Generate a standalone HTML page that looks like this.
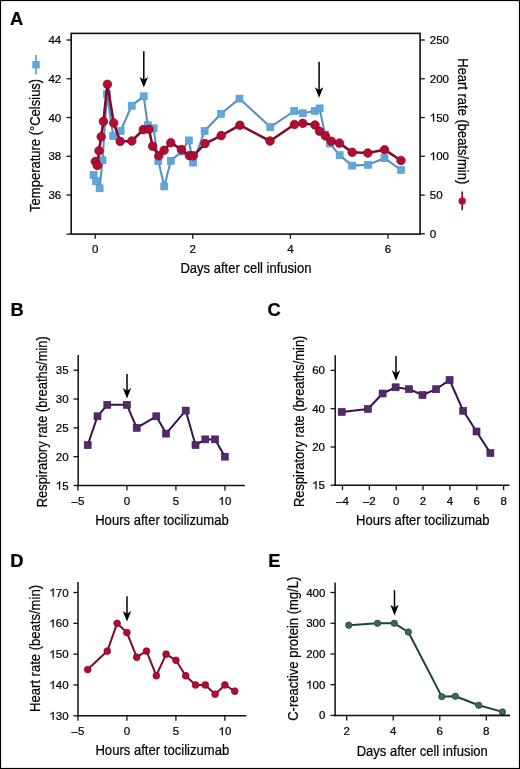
<!DOCTYPE html>
<html><head><meta charset="utf-8"><title>Figure</title>
<style>
html,body{margin:0;padding:0;background:#fff;}
body{width:520px;height:769px;overflow:hidden;}
svg{display:block;}
text{font-family:"Liberation Sans",sans-serif;fill:#000;stroke:#000;stroke-width:0.22px;}
svg{will-change:transform;}
</style></head>
<body>
<svg width="520" height="769" viewBox="0 0 520 769">
<rect x="0" y="0" width="520" height="769" fill="#fff"/>
<text x="10.0" y="24.6" font-size="18.3" text-anchor="start" font-weight="bold" stroke-width="0">A</text>
<rect x="71.2" y="33.4" width="348.9" height="200.7" fill="none" stroke="#111" stroke-width="1.6"/>
<line x1="66.5" y1="234.1" x2="71.2" y2="234.1" stroke="#111" stroke-width="1.3"/>
<line x1="66.5" y1="40.0" x2="71.2" y2="40.0" stroke="#111" stroke-width="1.3"/>
<text x="61.2" y="44.0" font-size="11.5" text-anchor="end" >44</text>
<line x1="66.5" y1="78.76" x2="71.2" y2="78.76" stroke="#111" stroke-width="1.3"/>
<text x="61.2" y="82.76" font-size="11.5" text-anchor="end" >42</text>
<line x1="66.5" y1="117.52" x2="71.2" y2="117.52" stroke="#111" stroke-width="1.3"/>
<text x="61.2" y="121.52" font-size="11.5" text-anchor="end" >40</text>
<line x1="66.5" y1="156.28" x2="71.2" y2="156.28" stroke="#111" stroke-width="1.3"/>
<text x="61.2" y="160.28" font-size="11.5" text-anchor="end" >38</text>
<line x1="66.5" y1="195.04" x2="71.2" y2="195.04" stroke="#111" stroke-width="1.3"/>
<text x="61.2" y="199.04" font-size="11.5" text-anchor="end" >36</text>
<line x1="420.1" y1="40.0" x2="424.8" y2="40.0" stroke="#111" stroke-width="1.3"/>
<text x="429.8" y="44.0" font-size="11.5" text-anchor="start" >250</text>
<line x1="420.1" y1="78.76" x2="424.8" y2="78.76" stroke="#111" stroke-width="1.3"/>
<text x="429.8" y="82.76" font-size="11.5" text-anchor="start" >200</text>
<line x1="420.1" y1="117.52" x2="424.8" y2="117.52" stroke="#111" stroke-width="1.3"/>
<path d="M434.08,121.52 L433.07,121.52 L433.07,115.08 Q432.71,115.43 432.11,115.78 Q431.52,116.12 430.83,116.43 L430.83,115.44 Q431.68,115.05 432.31,114.53 Q432.94,114.01 433.24,113.61 L434.08,113.61 Z" fill="#000" stroke="#000" stroke-width="0.22"/>
<text x="429.8" y="121.52" font-size="11.5" text-anchor="start" > 50</text>
<line x1="420.1" y1="156.28" x2="424.8" y2="156.28" stroke="#111" stroke-width="1.3"/>
<path d="M434.08,160.28 L433.07,160.28 L433.07,153.84 Q432.71,154.19 432.11,154.54 Q431.52,154.88 430.83,155.19 L430.83,154.20 Q431.68,153.81 432.31,153.29 Q432.94,152.77 433.24,152.37 L434.08,152.37 Z" fill="#000" stroke="#000" stroke-width="0.22"/>
<text x="429.8" y="160.28" font-size="11.5" text-anchor="start" > 00</text>
<line x1="420.1" y1="195.04" x2="424.8" y2="195.04" stroke="#111" stroke-width="1.3"/>
<text x="429.8" y="199.04" font-size="11.5" text-anchor="start" >50</text>
<line x1="420.1" y1="233.8" x2="424.8" y2="233.8" stroke="#111" stroke-width="1.3"/>
<text x="429.8" y="237.8" font-size="11.5" text-anchor="start" >0</text>
<line x1="95.2" y1="234.1" x2="95.2" y2="238.8" stroke="#111" stroke-width="1.3"/>
<text x="95.2" y="253.4" font-size="11.5" text-anchor="middle" >0</text>
<line x1="192.8" y1="234.1" x2="192.8" y2="238.8" stroke="#111" stroke-width="1.3"/>
<text x="192.8" y="253.4" font-size="11.5" text-anchor="middle" >2</text>
<line x1="290.4" y1="234.1" x2="290.4" y2="238.8" stroke="#111" stroke-width="1.3"/>
<text x="290.4" y="253.4" font-size="11.5" text-anchor="middle" >4</text>
<line x1="388.0" y1="234.1" x2="388.0" y2="238.8" stroke="#111" stroke-width="1.3"/>
<text x="388.0" y="253.4" font-size="11.5" text-anchor="middle" >6</text>
<text x="180.40" y="273.3" font-size="15.3" textLength="131.10" lengthAdjust="spacingAndGlyphs">Days after cell infusion</text>
<text transform="translate(40.3,211.90) rotate(-90)" x="0" y="0" font-size="15.4" textLength="133.10" lengthAdjust="spacingAndGlyphs">Temperature (°Celsius)</text>
<text transform="translate(457.5,58.30) rotate(90)" x="0" y="0" font-size="15.4" textLength="125.90" lengthAdjust="spacingAndGlyphs">Heart rate (beats/min)</text>
<line x1="36.05" y1="54.9" x2="36.05" y2="74.4" stroke="#5890c0" stroke-width="1.5"/>
<rect x="32.30" y="60.95" width="7.5" height="7.5" fill="#62a7dc"/>
<line x1="462.2" y1="191.4" x2="462.2" y2="210.2" stroke="#7e0b2d" stroke-width="1.6"/>
<circle cx="462.20" cy="201.10" r="3.7" fill="#b40a33"/>
<polyline points="93.6,175.0 96.2,181.3 99.6,188.3 102.5,160.3 107.0,94.2 113.2,136.0 120.6,131.0 131.7,105.7 143.7,96.3 147.8,125.3 153.6,128.3 158.3,160.8 164.3,186.4 170.8,160.8 181.5,151.5 188.8,140.4 193.1,162.6 204.6,131.0 221.1,113.8 239.5,98.6 270.3,127.1 294.3,111.0 302.7,113.3 314.8,111.0 319.6,108.4 325.0,134.5 329.8,143.5 339.6,155.1 352.2,165.6 368.0,164.8 384.5,158.2 401.0,170.0" fill="none" stroke="#5890c0" stroke-width="2.1" stroke-linejoin="round"/>
<rect x="90.10" y="171.50" width="7.0" height="7.0" fill="#62a7dc" stroke="#4f92c8" stroke-width="0.6"/>
<rect x="92.70" y="177.80" width="7.0" height="7.0" fill="#62a7dc" stroke="#4f92c8" stroke-width="0.6"/>
<rect x="96.10" y="184.80" width="7.0" height="7.0" fill="#62a7dc" stroke="#4f92c8" stroke-width="0.6"/>
<rect x="99.00" y="156.80" width="7.0" height="7.0" fill="#62a7dc" stroke="#4f92c8" stroke-width="0.6"/>
<rect x="103.50" y="90.70" width="7.0" height="7.0" fill="#62a7dc" stroke="#4f92c8" stroke-width="0.6"/>
<rect x="109.70" y="132.50" width="7.0" height="7.0" fill="#62a7dc" stroke="#4f92c8" stroke-width="0.6"/>
<rect x="117.10" y="127.50" width="7.0" height="7.0" fill="#62a7dc" stroke="#4f92c8" stroke-width="0.6"/>
<rect x="128.20" y="102.20" width="7.0" height="7.0" fill="#62a7dc" stroke="#4f92c8" stroke-width="0.6"/>
<rect x="140.20" y="92.80" width="7.0" height="7.0" fill="#62a7dc" stroke="#4f92c8" stroke-width="0.6"/>
<rect x="144.30" y="121.80" width="7.0" height="7.0" fill="#62a7dc" stroke="#4f92c8" stroke-width="0.6"/>
<rect x="150.10" y="124.80" width="7.0" height="7.0" fill="#62a7dc" stroke="#4f92c8" stroke-width="0.6"/>
<rect x="154.80" y="157.30" width="7.0" height="7.0" fill="#62a7dc" stroke="#4f92c8" stroke-width="0.6"/>
<rect x="160.80" y="182.90" width="7.0" height="7.0" fill="#62a7dc" stroke="#4f92c8" stroke-width="0.6"/>
<rect x="167.30" y="157.30" width="7.0" height="7.0" fill="#62a7dc" stroke="#4f92c8" stroke-width="0.6"/>
<rect x="178.00" y="148.00" width="7.0" height="7.0" fill="#62a7dc" stroke="#4f92c8" stroke-width="0.6"/>
<rect x="185.30" y="136.90" width="7.0" height="7.0" fill="#62a7dc" stroke="#4f92c8" stroke-width="0.6"/>
<rect x="189.60" y="159.10" width="7.0" height="7.0" fill="#62a7dc" stroke="#4f92c8" stroke-width="0.6"/>
<rect x="201.10" y="127.50" width="7.0" height="7.0" fill="#62a7dc" stroke="#4f92c8" stroke-width="0.6"/>
<rect x="217.60" y="110.30" width="7.0" height="7.0" fill="#62a7dc" stroke="#4f92c8" stroke-width="0.6"/>
<rect x="236.00" y="95.10" width="7.0" height="7.0" fill="#62a7dc" stroke="#4f92c8" stroke-width="0.6"/>
<rect x="266.80" y="123.60" width="7.0" height="7.0" fill="#62a7dc" stroke="#4f92c8" stroke-width="0.6"/>
<rect x="290.80" y="107.50" width="7.0" height="7.0" fill="#62a7dc" stroke="#4f92c8" stroke-width="0.6"/>
<rect x="299.20" y="109.80" width="7.0" height="7.0" fill="#62a7dc" stroke="#4f92c8" stroke-width="0.6"/>
<rect x="311.30" y="107.50" width="7.0" height="7.0" fill="#62a7dc" stroke="#4f92c8" stroke-width="0.6"/>
<rect x="316.10" y="104.90" width="7.0" height="7.0" fill="#62a7dc" stroke="#4f92c8" stroke-width="0.6"/>
<rect x="321.50" y="131.00" width="7.0" height="7.0" fill="#62a7dc" stroke="#4f92c8" stroke-width="0.6"/>
<rect x="326.30" y="140.00" width="7.0" height="7.0" fill="#62a7dc" stroke="#4f92c8" stroke-width="0.6"/>
<rect x="336.10" y="151.60" width="7.0" height="7.0" fill="#62a7dc" stroke="#4f92c8" stroke-width="0.6"/>
<rect x="348.70" y="162.10" width="7.0" height="7.0" fill="#62a7dc" stroke="#4f92c8" stroke-width="0.6"/>
<rect x="364.50" y="161.30" width="7.0" height="7.0" fill="#62a7dc" stroke="#4f92c8" stroke-width="0.6"/>
<rect x="381.00" y="154.70" width="7.0" height="7.0" fill="#62a7dc" stroke="#4f92c8" stroke-width="0.6"/>
<rect x="397.50" y="166.50" width="7.0" height="7.0" fill="#62a7dc" stroke="#4f92c8" stroke-width="0.6"/>
<polyline points="95.3,161.5 97.3,165.5 99.0,150.7 101.2,136.7 103.4,121.4 107.4,84.3 113.7,123.0 120.2,141.4 131.8,141.0 143.3,129.6 149.0,129.4 152.6,146.2 158.8,155.8 164.1,150.3 170.8,142.7 181.5,149.6 189.4,155.6 193.3,155.8 205.0,143.6 221.2,135.6 239.9,125.2 270.0,141.0 294.4,124.5 302.8,123.3 315.0,125.0 319.5,131.2 325.5,136.0 331.3,141.3 339.4,143.1 352.2,152.3 367.8,153.0 384.5,149.7 401.0,160.5" fill="none" stroke="#7e0b2d" stroke-width="2.6" stroke-linejoin="round"/>
<circle cx="95.30" cy="161.50" r="4.3" fill="#b40a33" stroke="#7d0a2a" stroke-width="0.7"/>
<circle cx="97.30" cy="165.50" r="4.3" fill="#b40a33" stroke="#7d0a2a" stroke-width="0.7"/>
<circle cx="99.00" cy="150.70" r="4.3" fill="#b40a33" stroke="#7d0a2a" stroke-width="0.7"/>
<circle cx="101.20" cy="136.70" r="4.3" fill="#b40a33" stroke="#7d0a2a" stroke-width="0.7"/>
<circle cx="103.40" cy="121.40" r="4.3" fill="#b40a33" stroke="#7d0a2a" stroke-width="0.7"/>
<circle cx="107.40" cy="84.30" r="4.3" fill="#b40a33" stroke="#7d0a2a" stroke-width="0.7"/>
<circle cx="113.70" cy="123.00" r="4.3" fill="#b40a33" stroke="#7d0a2a" stroke-width="0.7"/>
<circle cx="120.20" cy="141.40" r="4.3" fill="#b40a33" stroke="#7d0a2a" stroke-width="0.7"/>
<circle cx="131.80" cy="141.00" r="4.3" fill="#b40a33" stroke="#7d0a2a" stroke-width="0.7"/>
<circle cx="143.30" cy="129.60" r="4.3" fill="#b40a33" stroke="#7d0a2a" stroke-width="0.7"/>
<circle cx="149.00" cy="129.40" r="4.3" fill="#b40a33" stroke="#7d0a2a" stroke-width="0.7"/>
<circle cx="152.60" cy="146.20" r="4.3" fill="#b40a33" stroke="#7d0a2a" stroke-width="0.7"/>
<circle cx="158.80" cy="155.80" r="4.3" fill="#b40a33" stroke="#7d0a2a" stroke-width="0.7"/>
<circle cx="164.10" cy="150.30" r="4.3" fill="#b40a33" stroke="#7d0a2a" stroke-width="0.7"/>
<circle cx="170.80" cy="142.70" r="4.3" fill="#b40a33" stroke="#7d0a2a" stroke-width="0.7"/>
<circle cx="181.50" cy="149.60" r="4.3" fill="#b40a33" stroke="#7d0a2a" stroke-width="0.7"/>
<circle cx="189.40" cy="155.60" r="4.3" fill="#b40a33" stroke="#7d0a2a" stroke-width="0.7"/>
<circle cx="193.30" cy="155.80" r="4.3" fill="#b40a33" stroke="#7d0a2a" stroke-width="0.7"/>
<circle cx="205.00" cy="143.60" r="4.3" fill="#b40a33" stroke="#7d0a2a" stroke-width="0.7"/>
<circle cx="221.20" cy="135.60" r="4.3" fill="#b40a33" stroke="#7d0a2a" stroke-width="0.7"/>
<circle cx="239.90" cy="125.20" r="4.3" fill="#b40a33" stroke="#7d0a2a" stroke-width="0.7"/>
<circle cx="270.00" cy="141.00" r="4.3" fill="#b40a33" stroke="#7d0a2a" stroke-width="0.7"/>
<circle cx="294.40" cy="124.50" r="4.3" fill="#b40a33" stroke="#7d0a2a" stroke-width="0.7"/>
<circle cx="302.80" cy="123.30" r="4.3" fill="#b40a33" stroke="#7d0a2a" stroke-width="0.7"/>
<circle cx="315.00" cy="125.00" r="4.3" fill="#b40a33" stroke="#7d0a2a" stroke-width="0.7"/>
<circle cx="319.50" cy="131.20" r="4.3" fill="#b40a33" stroke="#7d0a2a" stroke-width="0.7"/>
<circle cx="325.50" cy="136.00" r="4.3" fill="#b40a33" stroke="#7d0a2a" stroke-width="0.7"/>
<circle cx="331.30" cy="141.30" r="4.3" fill="#b40a33" stroke="#7d0a2a" stroke-width="0.7"/>
<circle cx="339.40" cy="143.10" r="4.3" fill="#b40a33" stroke="#7d0a2a" stroke-width="0.7"/>
<circle cx="352.20" cy="152.30" r="4.3" fill="#b40a33" stroke="#7d0a2a" stroke-width="0.7"/>
<circle cx="367.80" cy="153.00" r="4.3" fill="#b40a33" stroke="#7d0a2a" stroke-width="0.7"/>
<circle cx="384.50" cy="149.70" r="4.3" fill="#b40a33" stroke="#7d0a2a" stroke-width="0.7"/>
<circle cx="401.00" cy="160.50" r="4.3" fill="#b40a33" stroke="#7d0a2a" stroke-width="0.7"/>
<line x1="143.8" y1="51.2" x2="143.8" y2="80.3" stroke="#000" stroke-width="1.5"/>
<path d="M143.8,87.6 L139.6,77.0 L143.8,79.8 L148.0,77.0 Z" fill="#000"/>
<line x1="319.1" y1="61.8" x2="319.1" y2="90.5" stroke="#000" stroke-width="1.5"/>
<path d="M319.1,97.8 L314.9,87.2 L319.1,90.0 L323.3,87.2 Z" fill="#000"/>
<text x="10.6" y="315.6" font-size="18.3" text-anchor="start" font-weight="bold" stroke-width="0">B</text>
<line x1="78.2" y1="355.0" x2="78.2" y2="486.25" stroke="#111" stroke-width="1.5"/>
<line x1="77.45" y1="485.5" x2="244.8" y2="485.5" stroke="#111" stroke-width="1.5"/>
<line x1="73.5" y1="370.2" x2="78.2" y2="370.2" stroke="#111" stroke-width="1.3"/>
<text x="68.6" y="374.2" font-size="11.5" text-anchor="end" >35</text>
<line x1="73.5" y1="399.02" x2="78.2" y2="399.02" stroke="#111" stroke-width="1.3"/>
<text x="68.6" y="403.02" font-size="11.5" text-anchor="end" >30</text>
<line x1="73.5" y1="427.85" x2="78.2" y2="427.85" stroke="#111" stroke-width="1.3"/>
<text x="68.6" y="431.85" font-size="11.5" text-anchor="end" >25</text>
<line x1="73.5" y1="456.68" x2="78.2" y2="456.68" stroke="#111" stroke-width="1.3"/>
<text x="68.6" y="460.68" font-size="11.5" text-anchor="end" >20</text>
<line x1="73.5" y1="485.5" x2="78.2" y2="485.5" stroke="#111" stroke-width="1.3"/>
<path d="M60.09,489.50 L59.08,489.50 L59.08,483.06 Q58.72,483.41 58.12,483.76 Q57.53,484.10 56.84,484.41 L56.84,483.42 Q57.69,483.03 58.32,482.51 Q58.95,481.99 59.25,481.59 L60.09,481.59 Z" fill="#000" stroke="#000" stroke-width="0.22"/>
<text x="68.6" y="489.5" font-size="11.5" text-anchor="end" > 5</text>
<line x1="77.9" y1="485.5" x2="77.9" y2="490.5" stroke="#111" stroke-width="1.3"/>
<text x="77.9" y="505.0" font-size="11.5" text-anchor="middle" >–5</text>
<line x1="126.9" y1="485.5" x2="126.9" y2="490.5" stroke="#111" stroke-width="1.3"/>
<text x="126.9" y="505.0" font-size="11.5" text-anchor="middle" >0</text>
<line x1="175.9" y1="485.5" x2="175.9" y2="490.5" stroke="#111" stroke-width="1.3"/>
<text x="175.9" y="505.0" font-size="11.5" text-anchor="middle" >5</text>
<line x1="224.9" y1="485.5" x2="224.9" y2="490.5" stroke="#111" stroke-width="1.3"/>
<path d="M222.79,505.00 L221.78,505.00 L221.78,498.56 Q221.41,498.91 220.82,499.26 Q220.22,499.60 219.54,499.91 L219.54,498.92 Q220.39,498.53 221.01,498.01 Q221.64,497.49 221.94,497.09 L222.79,497.09 Z" fill="#000" stroke="#000" stroke-width="0.22"/>
<text x="224.9" y="505.0" font-size="11.5" text-anchor="middle" > 0</text>
<text x="95.20" y="524.7" font-size="15.3" textLength="133.50" lengthAdjust="spacingAndGlyphs">Hours after tocilizumab</text>
<text transform="translate(46.9,507.20) rotate(-90)" x="0" y="0" font-size="15.4" textLength="170.90" lengthAdjust="spacingAndGlyphs">Respiratory rate (breaths/min)</text>
<polyline points="87.7,445.1 97.5,416.3 107.3,404.8 126.9,404.8 136.7,427.9 156.3,416.3 166.1,433.6 185.7,410.6 195.5,445.1 205.3,439.4 215.1,439.4 224.9,456.7" fill="none" stroke="#36134a" stroke-width="2.0" stroke-linejoin="round"/>
<rect x="84.20" y="441.64" width="7.0" height="7.0" fill="#56296d" stroke="#3e1a52" stroke-width="0.6"/>
<rect x="94.00" y="412.82" width="7.0" height="7.0" fill="#56296d" stroke="#3e1a52" stroke-width="0.6"/>
<rect x="103.80" y="401.29" width="7.0" height="7.0" fill="#56296d" stroke="#3e1a52" stroke-width="0.6"/>
<rect x="123.40" y="401.29" width="7.0" height="7.0" fill="#56296d" stroke="#3e1a52" stroke-width="0.6"/>
<rect x="133.20" y="424.35" width="7.0" height="7.0" fill="#56296d" stroke="#3e1a52" stroke-width="0.6"/>
<rect x="152.80" y="412.82" width="7.0" height="7.0" fill="#56296d" stroke="#3e1a52" stroke-width="0.6"/>
<rect x="162.60" y="430.12" width="7.0" height="7.0" fill="#56296d" stroke="#3e1a52" stroke-width="0.6"/>
<rect x="182.20" y="407.06" width="7.0" height="7.0" fill="#56296d" stroke="#3e1a52" stroke-width="0.6"/>
<rect x="192.00" y="441.64" width="7.0" height="7.0" fill="#56296d" stroke="#3e1a52" stroke-width="0.6"/>
<rect x="201.80" y="435.88" width="7.0" height="7.0" fill="#56296d" stroke="#3e1a52" stroke-width="0.6"/>
<rect x="211.60" y="435.88" width="7.0" height="7.0" fill="#56296d" stroke="#3e1a52" stroke-width="0.6"/>
<rect x="221.40" y="453.18" width="7.0" height="7.0" fill="#56296d" stroke="#3e1a52" stroke-width="0.6"/>
<line x1="127.0" y1="374.1" x2="127.0" y2="391.3" stroke="#000" stroke-width="1.5"/>
<path d="M127.0,398.6 L122.8,388.0 L127.0,390.8 L131.2,388.0 Z" fill="#000"/>
<text x="267.5" y="315.6" font-size="18.3" text-anchor="start" font-weight="bold" stroke-width="0">C</text>
<line x1="335.2" y1="355.2" x2="335.2" y2="485.95" stroke="#111" stroke-width="1.5"/>
<line x1="334.45" y1="485.2" x2="509.4" y2="485.2" stroke="#111" stroke-width="1.5"/>
<line x1="330.6" y1="370.4" x2="335.2" y2="370.4" stroke="#111" stroke-width="1.3"/>
<text x="325.0" y="374.4" font-size="11.5" text-anchor="end" >60</text>
<line x1="330.6" y1="408.7" x2="335.2" y2="408.7" stroke="#111" stroke-width="1.3"/>
<text x="325.0" y="412.7" font-size="11.5" text-anchor="end" >40</text>
<line x1="330.6" y1="447.0" x2="335.2" y2="447.0" stroke="#111" stroke-width="1.3"/>
<text x="325.0" y="451.0" font-size="11.5" text-anchor="end" >20</text>
<line x1="330.6" y1="485.2" x2="335.2" y2="485.2" stroke="#111" stroke-width="1.3"/>
<path d="M316.49,489.20 L315.48,489.20 L315.48,482.76 Q315.12,483.11 314.52,483.46 Q313.93,483.80 313.24,484.11 L313.24,483.12 Q314.09,482.73 314.72,482.21 Q315.35,481.69 315.65,481.29 L316.49,481.29 Z" fill="#000" stroke="#000" stroke-width="0.22"/>
<text x="325.0" y="489.2" font-size="11.5" text-anchor="end" > 5</text>
<line x1="342.48" y1="485.2" x2="342.48" y2="490.2" stroke="#111" stroke-width="1.3"/>
<text x="342.48" y="505.0" font-size="11.5" text-anchor="middle" >–4</text>
<line x1="369.34" y1="485.2" x2="369.34" y2="490.2" stroke="#111" stroke-width="1.3"/>
<text x="369.34" y="505.0" font-size="11.5" text-anchor="middle" >–2</text>
<line x1="396.2" y1="485.2" x2="396.2" y2="490.2" stroke="#111" stroke-width="1.3"/>
<text x="396.2" y="505.0" font-size="11.5" text-anchor="middle" >0</text>
<line x1="423.06" y1="485.2" x2="423.06" y2="490.2" stroke="#111" stroke-width="1.3"/>
<text x="423.06" y="505.0" font-size="11.5" text-anchor="middle" >2</text>
<line x1="449.92" y1="485.2" x2="449.92" y2="490.2" stroke="#111" stroke-width="1.3"/>
<text x="449.92" y="505.0" font-size="11.5" text-anchor="middle" >4</text>
<line x1="476.78" y1="485.2" x2="476.78" y2="490.2" stroke="#111" stroke-width="1.3"/>
<text x="476.78" y="505.0" font-size="11.5" text-anchor="middle" >6</text>
<line x1="503.64" y1="485.2" x2="503.64" y2="490.2" stroke="#111" stroke-width="1.3"/>
<text x="503.64" y="505.0" font-size="11.5" text-anchor="middle" >8</text>
<text x="356.10" y="525.0" font-size="15.3" textLength="133.50" lengthAdjust="spacingAndGlyphs">Hours after tocilizumab</text>
<text transform="translate(304.2,507.00) rotate(-90)" x="0" y="0" font-size="15.4" textLength="171.40" lengthAdjust="spacingAndGlyphs">Respiratory rate (breaths/min)</text>
<polyline points="341.7,411.9 367.9,409.0 382.6,393.5 395.6,387.3 409.0,389.2 422.5,395.0 436.1,389.2 449.6,380.0 463.2,410.8 476.5,431.5 490.4,453.1" fill="none" stroke="#36134a" stroke-width="2.0" stroke-linejoin="round"/>
<rect x="338.20" y="408.40" width="7.0" height="7.0" fill="#56296d" stroke="#3e1a52" stroke-width="0.6"/>
<rect x="364.40" y="405.50" width="7.0" height="7.0" fill="#56296d" stroke="#3e1a52" stroke-width="0.6"/>
<rect x="379.10" y="390.00" width="7.0" height="7.0" fill="#56296d" stroke="#3e1a52" stroke-width="0.6"/>
<rect x="392.10" y="383.80" width="7.0" height="7.0" fill="#56296d" stroke="#3e1a52" stroke-width="0.6"/>
<rect x="405.50" y="385.70" width="7.0" height="7.0" fill="#56296d" stroke="#3e1a52" stroke-width="0.6"/>
<rect x="419.00" y="391.50" width="7.0" height="7.0" fill="#56296d" stroke="#3e1a52" stroke-width="0.6"/>
<rect x="432.60" y="385.70" width="7.0" height="7.0" fill="#56296d" stroke="#3e1a52" stroke-width="0.6"/>
<rect x="446.10" y="376.50" width="7.0" height="7.0" fill="#56296d" stroke="#3e1a52" stroke-width="0.6"/>
<rect x="459.70" y="407.30" width="7.0" height="7.0" fill="#56296d" stroke="#3e1a52" stroke-width="0.6"/>
<rect x="473.00" y="428.00" width="7.0" height="7.0" fill="#56296d" stroke="#3e1a52" stroke-width="0.6"/>
<rect x="486.90" y="449.60" width="7.0" height="7.0" fill="#56296d" stroke="#3e1a52" stroke-width="0.6"/>
<line x1="396.0" y1="356.0" x2="396.0" y2="373.5" stroke="#000" stroke-width="1.5"/>
<path d="M396.0,380.8 L391.8,370.2 L396.0,373.0 L400.2,370.2 Z" fill="#000"/>
<text x="10.3" y="567.0" font-size="18.3" text-anchor="start" font-weight="bold" stroke-width="0">D</text>
<line x1="78.0" y1="582.0" x2="78.0" y2="716.55" stroke="#111" stroke-width="1.5"/>
<line x1="77.25" y1="715.8" x2="246.3" y2="715.8" stroke="#111" stroke-width="1.5"/>
<line x1="73.4" y1="592.5" x2="78.0" y2="592.5" stroke="#111" stroke-width="1.3"/>
<path d="M53.70,596.50 L52.69,596.50 L52.69,590.06 Q52.32,590.41 51.73,590.76 Q51.13,591.10 50.45,591.41 L50.45,590.42 Q51.29,590.03 51.92,589.51 Q52.55,588.99 52.85,588.59 L53.70,588.59 Z" fill="#000" stroke="#000" stroke-width="0.22"/>
<text x="68.6" y="596.5" font-size="11.5" text-anchor="end" > 70</text>
<line x1="73.4" y1="623.33" x2="78.0" y2="623.33" stroke="#111" stroke-width="1.3"/>
<path d="M53.70,627.33 L52.69,627.33 L52.69,620.88 Q52.32,621.23 51.73,621.58 Q51.13,621.93 50.45,622.23 L50.45,621.25 Q51.29,620.85 51.92,620.33 Q52.55,619.82 52.85,619.41 L53.70,619.41 Z" fill="#000" stroke="#000" stroke-width="0.22"/>
<text x="68.6" y="627.33" font-size="11.5" text-anchor="end" > 60</text>
<line x1="73.4" y1="654.15" x2="78.0" y2="654.15" stroke="#111" stroke-width="1.3"/>
<path d="M53.70,658.15 L52.69,658.15 L52.69,651.71 Q52.32,652.06 51.73,652.41 Q51.13,652.75 50.45,653.06 L50.45,652.07 Q51.29,651.68 51.92,651.16 Q52.55,650.64 52.85,650.24 L53.70,650.24 Z" fill="#000" stroke="#000" stroke-width="0.22"/>
<text x="68.6" y="658.15" font-size="11.5" text-anchor="end" > 50</text>
<line x1="73.4" y1="684.97" x2="78.0" y2="684.97" stroke="#111" stroke-width="1.3"/>
<path d="M53.70,688.97 L52.69,688.97 L52.69,682.53 Q52.32,682.88 51.73,683.23 Q51.13,683.58 50.45,683.88 L50.45,682.90 Q51.29,682.50 51.92,681.98 Q52.55,681.47 52.85,681.06 L53.70,681.06 Z" fill="#000" stroke="#000" stroke-width="0.22"/>
<text x="68.6" y="688.97" font-size="11.5" text-anchor="end" > 40</text>
<line x1="73.4" y1="715.8" x2="78.0" y2="715.8" stroke="#111" stroke-width="1.3"/>
<path d="M53.70,719.80 L52.69,719.80 L52.69,713.36 Q52.32,713.71 51.73,714.06 Q51.13,714.40 50.45,714.71 L50.45,713.72 Q51.29,713.33 51.92,712.81 Q52.55,712.29 52.85,711.89 L53.70,711.89 Z" fill="#000" stroke="#000" stroke-width="0.22"/>
<text x="68.6" y="719.8" font-size="11.5" text-anchor="end" > 30</text>
<line x1="77.9" y1="715.8" x2="77.9" y2="720.8" stroke="#111" stroke-width="1.3"/>
<text x="77.9" y="735.2" font-size="11.5" text-anchor="middle" >–5</text>
<line x1="126.9" y1="715.8" x2="126.9" y2="720.8" stroke="#111" stroke-width="1.3"/>
<text x="126.9" y="735.2" font-size="11.5" text-anchor="middle" >0</text>
<line x1="175.9" y1="715.8" x2="175.9" y2="720.8" stroke="#111" stroke-width="1.3"/>
<text x="175.9" y="735.2" font-size="11.5" text-anchor="middle" >5</text>
<line x1="224.9" y1="715.8" x2="224.9" y2="720.8" stroke="#111" stroke-width="1.3"/>
<path d="M222.79,735.20 L221.78,735.20 L221.78,728.76 Q221.41,729.11 220.82,729.46 Q220.22,729.80 219.54,730.11 L219.54,729.12 Q220.39,728.73 221.01,728.21 Q221.64,727.69 221.94,727.29 L222.79,727.29 Z" fill="#000" stroke="#000" stroke-width="0.22"/>
<text x="224.9" y="735.2" font-size="11.5" text-anchor="middle" > 0</text>
<text x="95.40" y="755.3" font-size="15.3" textLength="133.90" lengthAdjust="spacingAndGlyphs">Hours after tocilizumab</text>
<text transform="translate(40.4,712.00) rotate(-90)" x="0" y="0" font-size="15.4" textLength="127.00" lengthAdjust="spacingAndGlyphs">Heart rate (beats/min)</text>
<polyline points="87.7,669.6 107.3,651.1 117.1,623.3 126.9,632.6 136.7,657.2 146.5,651.1 156.3,675.7 166.1,654.1 175.9,660.3 185.7,675.7 195.5,685.0 205.3,685.0 215.1,694.2 224.9,685.0 234.7,691.1" fill="none" stroke="#7e0b2d" stroke-width="2.0" stroke-linejoin="round"/>
<circle cx="87.70" cy="669.56" r="3.4" fill="#b40a33" stroke="#7d0a2a" stroke-width="0.7"/>
<circle cx="107.30" cy="651.07" r="3.4" fill="#b40a33" stroke="#7d0a2a" stroke-width="0.7"/>
<circle cx="117.10" cy="623.33" r="3.4" fill="#b40a33" stroke="#7d0a2a" stroke-width="0.7"/>
<circle cx="126.90" cy="632.57" r="3.4" fill="#b40a33" stroke="#7d0a2a" stroke-width="0.7"/>
<circle cx="136.70" cy="657.23" r="3.4" fill="#b40a33" stroke="#7d0a2a" stroke-width="0.7"/>
<circle cx="146.50" cy="651.07" r="3.4" fill="#b40a33" stroke="#7d0a2a" stroke-width="0.7"/>
<circle cx="156.30" cy="675.73" r="3.4" fill="#b40a33" stroke="#7d0a2a" stroke-width="0.7"/>
<circle cx="166.10" cy="654.15" r="3.4" fill="#b40a33" stroke="#7d0a2a" stroke-width="0.7"/>
<circle cx="175.90" cy="660.31" r="3.4" fill="#b40a33" stroke="#7d0a2a" stroke-width="0.7"/>
<circle cx="185.70" cy="675.73" r="3.4" fill="#b40a33" stroke="#7d0a2a" stroke-width="0.7"/>
<circle cx="195.50" cy="684.97" r="3.4" fill="#b40a33" stroke="#7d0a2a" stroke-width="0.7"/>
<circle cx="205.30" cy="684.97" r="3.4" fill="#b40a33" stroke="#7d0a2a" stroke-width="0.7"/>
<circle cx="215.10" cy="694.22" r="3.4" fill="#b40a33" stroke="#7d0a2a" stroke-width="0.7"/>
<circle cx="224.90" cy="684.97" r="3.4" fill="#b40a33" stroke="#7d0a2a" stroke-width="0.7"/>
<circle cx="234.70" cy="691.14" r="3.4" fill="#b40a33" stroke="#7d0a2a" stroke-width="0.7"/>
<line x1="127.0" y1="596.2" x2="127.0" y2="614.2" stroke="#000" stroke-width="1.5"/>
<path d="M127.0,621.5 L122.8,610.9 L127.0,613.7 L131.2,610.9 Z" fill="#000"/>
<text x="268.2" y="567.0" font-size="18.3" text-anchor="start" font-weight="bold" stroke-width="0">E</text>
<line x1="335.1" y1="582.4" x2="335.1" y2="716.15" stroke="#111" stroke-width="1.5"/>
<line x1="334.35" y1="715.4" x2="510.0" y2="715.4" stroke="#111" stroke-width="1.5"/>
<line x1="330.5" y1="592.5" x2="335.1" y2="592.5" stroke="#111" stroke-width="1.3"/>
<text x="325.4" y="596.5" font-size="11.5" text-anchor="end" >400</text>
<line x1="330.5" y1="623.23" x2="335.1" y2="623.23" stroke="#111" stroke-width="1.3"/>
<text x="325.4" y="627.23" font-size="11.5" text-anchor="end" >300</text>
<line x1="330.5" y1="653.95" x2="335.1" y2="653.95" stroke="#111" stroke-width="1.3"/>
<text x="325.4" y="657.95" font-size="11.5" text-anchor="end" >200</text>
<line x1="330.5" y1="684.67" x2="335.1" y2="684.67" stroke="#111" stroke-width="1.3"/>
<path d="M310.50,688.67 L309.49,688.67 L309.49,682.23 Q309.12,682.58 308.53,682.93 Q307.93,683.28 307.25,683.58 L307.25,682.60 Q308.09,682.20 308.72,681.68 Q309.35,681.17 309.65,680.76 L310.50,680.76 Z" fill="#000" stroke="#000" stroke-width="0.22"/>
<text x="325.4" y="688.67" font-size="11.5" text-anchor="end" > 00</text>
<line x1="330.5" y1="715.4" x2="335.1" y2="715.4" stroke="#111" stroke-width="1.3"/>
<text x="325.4" y="719.4" font-size="11.5" text-anchor="end" >0</text>
<line x1="346.7" y1="715.4" x2="346.7" y2="720.4" stroke="#111" stroke-width="1.3"/>
<text x="346.7" y="735.4" font-size="11.5" text-anchor="middle" >2</text>
<line x1="393.24" y1="715.4" x2="393.24" y2="720.4" stroke="#111" stroke-width="1.3"/>
<text x="393.24" y="735.4" font-size="11.5" text-anchor="middle" >4</text>
<line x1="439.78" y1="715.4" x2="439.78" y2="720.4" stroke="#111" stroke-width="1.3"/>
<text x="439.78" y="735.4" font-size="11.5" text-anchor="middle" >6</text>
<line x1="486.32" y1="715.4" x2="486.32" y2="720.4" stroke="#111" stroke-width="1.3"/>
<text x="486.32" y="735.4" font-size="11.5" text-anchor="middle" >8</text>
<text x="356.70" y="755.9" font-size="15.3" textLength="131.10" lengthAdjust="spacingAndGlyphs">Days after cell infusion</text>
<text transform="translate(297.5,720.80) rotate(-90)" x="0" y="0" font-size="15.4" textLength="144.10" lengthAdjust="spacingAndGlyphs">C-reactive protein (mg/L)</text>
<polyline points="348.7,625.2 377.5,623.3 394.3,623.3 408.3,632.0 441.8,696.6 455.4,696.3 478.7,705.3 502.4,711.9" fill="none" stroke="#1f4539" stroke-width="2.0" stroke-linejoin="round"/>
<circle cx="348.70" cy="625.20" r="3.2" fill="#346b5a" stroke="#1f4539" stroke-width="0.7"/>
<circle cx="377.50" cy="623.30" r="3.2" fill="#346b5a" stroke="#1f4539" stroke-width="0.7"/>
<circle cx="394.30" cy="623.30" r="3.2" fill="#346b5a" stroke="#1f4539" stroke-width="0.7"/>
<circle cx="408.30" cy="632.00" r="3.2" fill="#346b5a" stroke="#1f4539" stroke-width="0.7"/>
<circle cx="441.80" cy="696.60" r="3.2" fill="#346b5a" stroke="#1f4539" stroke-width="0.7"/>
<circle cx="455.40" cy="696.30" r="3.2" fill="#346b5a" stroke="#1f4539" stroke-width="0.7"/>
<circle cx="478.70" cy="705.30" r="3.2" fill="#346b5a" stroke="#1f4539" stroke-width="0.7"/>
<circle cx="502.40" cy="711.90" r="3.2" fill="#346b5a" stroke="#1f4539" stroke-width="0.7"/>
<line x1="480" y1="715.4" x2="510.0" y2="715.4" stroke="#111" stroke-width="1.5"/>
<line x1="394.5" y1="590.2" x2="394.5" y2="608.1" stroke="#000" stroke-width="1.5"/>
<path d="M394.5,615.4 L390.3,604.8 L394.5,607.6 L398.7,604.8 Z" fill="#000"/>
<rect x="0.5" y="0.5" width="519" height="768" fill="none" stroke="#000" stroke-width="1.2"/>
</svg>
</body></html>
